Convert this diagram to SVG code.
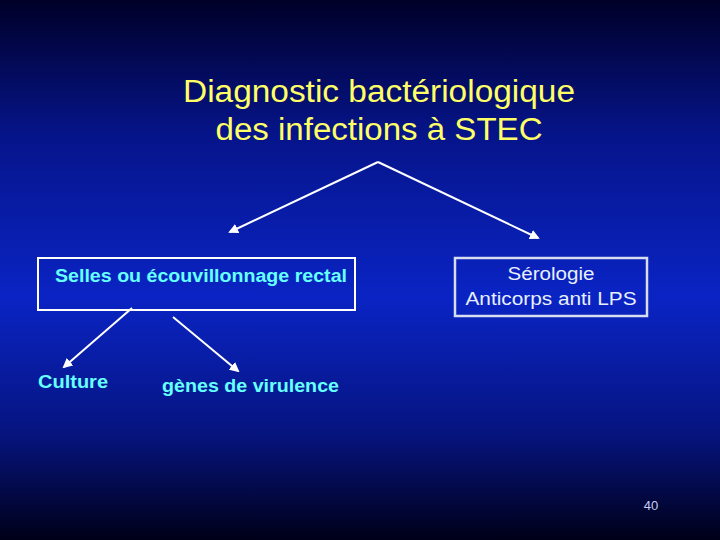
<svg xmlns="http://www.w3.org/2000/svg" width="720" height="540" viewBox="0 0 720 540">
<defs>
<linearGradient id="bg" x1="0" y1="0" x2="0" y2="1">
<stop offset="0" stop-color="#000028"/>
<stop offset="0.25" stop-color="#06148a"/>
<stop offset="0.55" stop-color="#0a24c4"/>
<stop offset="0.8" stop-color="#061480"/>
<stop offset="1" stop-color="#000018"/>
</linearGradient>
<marker id="ah" markerWidth="5" markerHeight="5" refX="4" refY="2.5" orient="auto" markerUnits="strokeWidth">
<path d="M0,0 L5,2.5 L0,5 z" fill="#ffffff"/>
</marker>
<style>
.ln{stroke:#ffffff;stroke-width:2;fill:none;marker-end:url(#ah)}
.t{font-family:"Liberation Sans","DejaVu Sans",sans-serif}
.title{fill:#ffff66;font-size:31px;text-anchor:middle}
.cy{fill:#66ffff;font-size:18px;font-weight:bold}
.wh{fill:#e8f0ff;font-size:18px;text-anchor:middle}
</style>
</defs>
<rect width="720" height="540" fill="url(#bg)"/>
<g id="title"><text class="t title" x="379" y="102" textLength="392" lengthAdjust="spacingAndGlyphs">Diagnostic bactériologique</text><text class="t title" x="379" y="140" textLength="327" lengthAdjust="spacingAndGlyphs">des infections à STEC</text></g>
<g id="selles"><rect x="38" y="258" width="317" height="52" fill="none" stroke="#ffffff" stroke-width="2"/><text class="t cy" x="55" y="282" textLength="292" lengthAdjust="spacingAndGlyphs">Selles ou écouvillonnage rectal</text></g>
<g id="serologie"><rect x="455" y="258" width="192" height="58" fill="none" stroke="#d8dcf0" stroke-width="2.5"/><text class="t wh" x="551" y="280" textLength="87" lengthAdjust="spacingAndGlyphs">Sérologie</text><text class="t wh" x="551" y="305" textLength="171" lengthAdjust="spacingAndGlyphs">Anticorps anti LPS</text></g>
<g id="culture"><text class="t cy" x="38" y="388" textLength="70" lengthAdjust="spacingAndGlyphs">Culture</text></g>
<g id="genes"><text class="t cy" x="162" y="392" textLength="177" lengthAdjust="spacingAndGlyphs">gènes de virulence</text></g>
<g id="connectors">
<line class="ln" x1="378" y1="162" x2="230" y2="232"/>
<line class="ln" x1="378" y1="162" x2="538" y2="238"/>
<line class="ln" x1="132" y1="308" x2="64" y2="367"/>
<line class="ln" x1="173" y1="317" x2="238" y2="371"/>
</g>
<text class="t" x="651" y="510" fill="#c8ccf0" font-size="13" text-anchor="middle">40</text>
</svg>
